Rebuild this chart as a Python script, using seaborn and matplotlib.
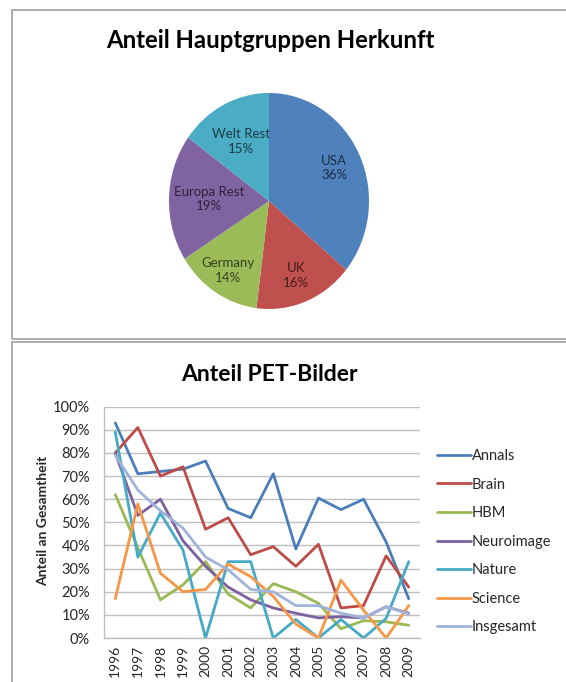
import numpy as np
import pandas as pd
import matplotlib
matplotlib.use("Agg")
import matplotlib.pyplot as plt
from matplotlib.patches import Rectangle
from matplotlib.lines import Line2D
from matplotlib.ticker import PercentFormatter, MultipleLocator
import seaborn as sns

# ---------------- data ----------------
pie_labels = ["USA", "UK", "Germany", "Europa Rest", "Welt Rest"]
pie_values = [36, 16, 14, 19, 15]
pie_colors = ["#4F81BD", "#C0504D", "#9BBB59", "#8064A2", "#4BACC6"]

years = ["1996", "1997", "1998", "1999", "2000", "2001", "2002",
         "2003", "2004", "2005", "2006", "2007", "2008", "2009"]
annals = [93, 71, 72, 73, 76.5, 56, 52, 71, 38.5, 60.5, 55.5, 60, 41.5, 17]
brain = [80, 91, 70, 74, 47, 52, 36, 39.5, 31, 40.5, 13, 14, 35.5, 22]
hbm = [62, 39, 16.5, 23, 33, 19, 13, 23.5, 20, 15, 4, 7.5, 7, 5.5]
neuroimage = [80, 53, 60, 42, 31, 22, 16.5, 13, 10.7, 8.7, 9.2, 8.7, 13.5, 10.7]
nature = [89, 35, 54, 38, 0, 33, 33, 0, 8, 0, 8, 0, 8.5, 33]
science = [17, 58, 28, 20, 21, 32, 26.5, 18, 6, 0, 25, 12, 0, 14]
insgesamt = [79, 64, 55, 47.5, 35, 29.5, 21, 20, 14, 14, 10.7, 8.7, 13.5, 10.4]

series_names = ["Annals", "Brain", "HBM", "Neuroimage", "Nature", "Science", "Insgesamt"]
series_values = [annals, brain, hbm, neuroimage, nature, science, insgesamt]
line_colors = ["#4A7EBB", "#BE4B48", "#98B954", "#7D60A0", "#46AAC5", "#F79646", "#A0B4DA"]

# ---------------- style ----------------
sns.set_theme(style="white")
plt.rcParams["font.family"] = ["Lato", "DejaVu Sans"]

W, H = 566, 682
fig = plt.figure(figsize=(W / 100, H / 100), dpi=100)


def fx(px):
    return px / W


def fy(py):
    return 1 - py / H


# panel borders
border_col = "#A6A6A6"
fig.patches.append(Rectangle((fx(12), fy(339)), fx(600), fy(10) - fy(339),
                             transform=fig.transFigure, fill=False,
                             edgecolor=border_col, linewidth=1.3))
fig.patches.append(Rectangle((fx(12), fy(700)), fx(600), fy(342) - fy(700),
                             transform=fig.transFigure, fill=False,
                             edgecolor=border_col, linewidth=1.3))

# ---------------- pie ----------------
cx, cy, rx, ry = 269, 201, 100, 108
ax_pie = fig.add_axes([fx(cx - rx), fy(cy + ry), fx(2 * rx), fy(cy - ry) - fy(cy + ry)])


def darken(c, f=0.35):
    rgb = np.array(matplotlib.colors.to_rgb(c))
    return tuple(rgb * f)


wedges, _ = ax_pie.pie(pie_values, colors=pie_colors, startangle=90, counterclock=False,
                       radius=1.0, wedgeprops=dict(linewidth=0))
label_dist = [0.72, 0.74, 0.76, 0.60, 0.62]
for w, lab, val, d, col in zip(wedges, pie_labels, pie_values, label_dist, pie_colors):
    ang = np.deg2rad((w.theta1 + w.theta2) / 2)
    ax_pie.text(d * np.cos(ang), d * np.sin(ang), f"{lab}\n{val}%", ha="center", va="center",
                fontsize=9.5, color=darken(col), linespacing=1.25)
ax_pie.set_xlim(-1.0, 1.0)
ax_pie.set_ylim(-1.0, 1.0)
ax_pie.set_aspect("auto")
ax_pie.axis("off")

fig.text(fx(270), fy(40), "Anteil Hauptgruppen Herkunft", ha="center", va="center",
         fontsize=17.2, fontweight="bold", color="#000000")

# ---------------- line chart ----------------
rows = []
for name, vals in zip(series_names, series_values):
    for i, (yr, v) in enumerate(zip(years, vals)):
        rows.append({"idx": i, "Jahr": yr, "Anteil": v, "Journal": name})
df = pd.DataFrame(rows)

L, R, T, B = 104, 420, 406.7, 638
ax = fig.add_axes([fx(L), fy(B), fx(R - L), fy(T) - fy(B)])
sns.lineplot(data=df, x="idx", y="Anteil", hue="Journal", hue_order=series_names,
             palette=line_colors, linewidth=2.0, ax=ax, legend=False, sort=False)
ax.set_xlim(-0.5, len(years) - 0.5)
ax.set_ylim(0, 100)
ax.yaxis.set_major_locator(MultipleLocator(10))
ax.yaxis.set_major_formatter(PercentFormatter(decimals=0))
ax.set_xticks(range(len(years)))
ax.set_xticklabels(years, rotation=90, fontsize=10, color="#262626")
ax.tick_params(axis="y", labelsize=10.5, labelcolor="#262626", length=0, pad=10)
ax.tick_params(axis="x", length=0, pad=5)
ax.grid(axis="y", color="#BFBFBF", linewidth=1.0)
ax.grid(axis="x", visible=False)
ax.set_axisbelow(True)
for s in ["top", "right"]:
    ax.spines[s].set_visible(False)
for s in ["left", "bottom"]:
    ax.spines[s].set_color("#BFBFBF")
    ax.spines[s].set_linewidth(1.0)
ax.set_xlabel("")
ax.set_ylabel("")
fig.text(fx(43), fy(521), "Anteil an Gesamtheit", rotation=90, ha="center", va="center",
         fontsize=10, fontweight="bold", color="#262626")

fig.text(fx(269), fy(375), "Anteil PET-Bilder", ha="center", va="center",
         fontsize=16.5, fontweight="bold", color="#000000")

handles = [Line2D([0], [0], color=c, linewidth=2.0) for c in line_colors]
fig.legend(handles, series_names, loc="upper left", bbox_to_anchor=(fx(437), fy(449)),
           frameon=False, fontsize=10.5, handlelength=2.3, handletextpad=0.1,
           labelspacing=1.0, borderpad=0, borderaxespad=0, labelcolor="#262626")

fig.savefig("out.png", dpi=100)
